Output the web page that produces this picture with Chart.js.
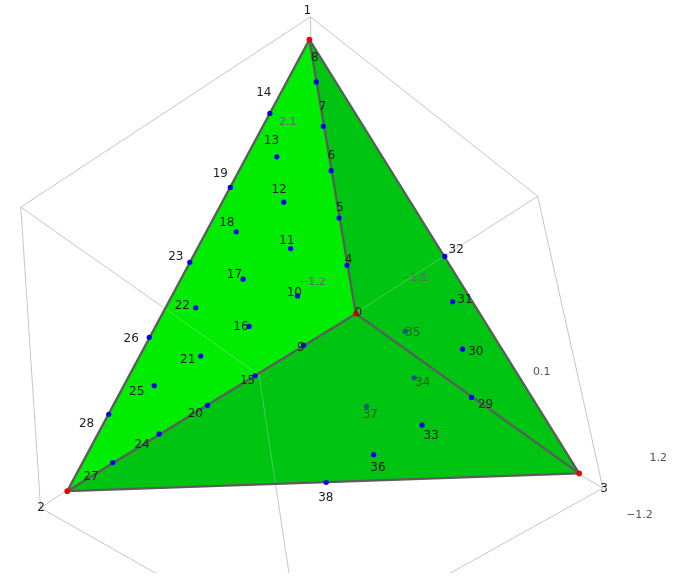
<!DOCTYPE html>
<html>
<head>
<meta charset="utf-8">
<script src="https://cdn.jsdelivr.net/npm/chart.js@4.4.1/dist/chart.umd.min.js"></script>
<style>
  html, body { margin: 0; padding: 0; background: #ffffff; }
  #wrap { width: 685px; height: 577px; }
</style>
</head>
<body>
<div id="wrap"><canvas id="c" width="685" height="577"></canvas></div>
<script>
// Simplex vertices (projected view coordinates)
const vertexIds = ['0', '1', '2', '3'];
const vertexX = [356, 309, 64, 582];
const vertexY = [314, 36, 494, 476];

// Design points on the faces / edges of the simplex
const pointIds = ['4','5','6','7','8','9','10','11','12','13','14','15','16','17','18','19','20','21',
                  '22','23','24','25','26','27','28','29','30','31','32','33','34','35','36','37','38'];
const pointX = [347,339,331,323,316,303,297,290,283,276,269,254,248,242,235,229,206,199,
                194,188,157,152,147,110,106,473,464,454,446,423,415,406,374,367,326];
const pointY = [265,217,169,124,79,346,296,248,201,155,111,377,327,279,231,186,407,357,
                308,262,436,387,338,465,416,399,350,302,256,427,379,332,457,408,485];

// Points lying inside the solid (seen through the faces)
const interiorIds = ['34', '35', '37'];

// Faces and edges as vertex index lists
const faces = [[0, 1, 2], [0, 1, 3], [0, 2, 3]];
const edges = [[0, 1], [0, 2], [0, 3], [1, 2], [1, 3], [2, 3]];

// Bounding box corners and edges
const boxX = [310, 17, 540, 37, 606, 258, 301, 318];
const boxY = [13, 206, 195, 511, 491, 376, 661, 322];
const boxEdges = [[0,1],[0,2],[1,3],[2,4],[3,6],[4,6],[1,5],[2,5],[5,6],[0,7],[3,7],[4,7]];
const boxBackEdges = [[1,5],[2,5],[5,6]];

// Box tick labels
const tickText = ['2.1', '\u22121.2', '\u22121.1', '0.1', '1.2', '\u22121.2'];
const tickX = [287, 312, 415, 544, 662, 643];
const tickY = [120, 282, 278, 373, 461, 518];
const tickBehind = [true, true, true, false, false, false];

// Labels sit a little outward from the view centre
const labelCentre = { x: 330, y: 322 };
const labelScale = 1.1;

const faceColors = ['#00ec00', '#00c412', '#00c412'];

const seg = (xs, ys, idx) => idx.map(i => ({ x: xs[i], y: ys[i] }));

const datasets = [];

boxEdges.forEach(e => datasets.push({
  data: seg(boxX, boxY, e), showLine: true, borderColor: '#c6c6c6', borderWidth: 1,
  pointRadius: 0, fill: false, order: 20
}));

faces.forEach((f, i) => datasets.push({
  data: seg(vertexX, vertexY, [...f, f[0]]), showLine: true, borderWidth: 0.5,
  borderColor: faceColors[i], backgroundColor: faceColors[i], fill: 'shape',
  pointRadius: 0, order: 15 - i
}));

boxBackEdges.forEach(e => datasets.push({
  data: seg(boxX, boxY, e), showLine: true, borderColor: 'rgba(215,215,215,0.35)', borderWidth: 1,
  pointRadius: 0, fill: false, order: 10
}));

edges.forEach(e => datasets.push({
  data: seg(vertexX, vertexY, e), showLine: true, borderColor: '#5c5c5c', borderWidth: 2.3,
  pointRadius: 0, fill: false, order: 8
}));

const inner = [], outer = [];
pointIds.forEach((id, i) => {
  (interiorIds.includes(id) ? inner : outer).push({ x: pointX[i], y: pointY[i] });
});
datasets.push({ data: inner, pointRadius: 2.6, pointBackgroundColor: '#1a5876', pointBorderWidth: 0, order: 6 });
datasets.push({ data: outer, pointRadius: 2.6, pointBackgroundColor: '#0000f0', pointBorderWidth: 0, order: 5 });
datasets.push({ data: seg(vertexX, vertexY, [0, 1, 2, 3]), pointRadius: 2.8,
  pointBackgroundColor: '#f00000', pointBorderWidth: 0, order: 4 });

const labelPlugin = {
  id: 'simplexLabels',
  afterDatasetsDraw(chart) {
    const { ctx } = chart;
    const sx = chart.scales.x, sy = chart.scales.y;
    ctx.save();
    ctx.textAlign = 'center';
    ctx.textBaseline = 'middle';

    ctx.font = '11px "DejaVu Sans"';
    tickText.forEach((t, i) => {
      ctx.fillStyle = tickBehind[i] ? '#6e6078' : '#555555';
      ctx.fillText(t, sx.getPixelForValue(tickX[i]), sy.getPixelForValue(tickY[i]));
    });

    ctx.font = '12px "DejaVu Sans"';
    const put = (id, x, y, color) => {
      const lx = labelCentre.x + labelScale * (x - labelCentre.x);
      const ly = labelCentre.y + labelScale * (y - labelCentre.y);
      ctx.fillStyle = color;
      ctx.fillText(id, sx.getPixelForValue(lx), sy.getPixelForValue(ly));
    };
    vertexIds.forEach((id, i) => put(id, vertexX[i], vertexY[i], '#1e1e1e'));
    pointIds.forEach((id, i) => put(id, pointX[i], pointY[i],
      interiorIds.includes(id) ? '#1f661f' : '#1e1e1e'));
    ctx.restore();
  }
};

new Chart(document.getElementById('c'), {
  type: 'scatter',
  data: { datasets },
  options: {
    responsive: false,
    animation: false,
    devicePixelRatio: 1,
    layout: { padding: 0 },
    plugins: { legend: { display: false }, tooltip: { enabled: false } },
    scales: {
      x: { type: 'linear', min: 0, max: 685, display: false },
      y: { type: 'linear', min: 0, max: 577, reverse: true, display: false }
    }
  },
  plugins: [labelPlugin]
});
</script>
</body>
</html>
